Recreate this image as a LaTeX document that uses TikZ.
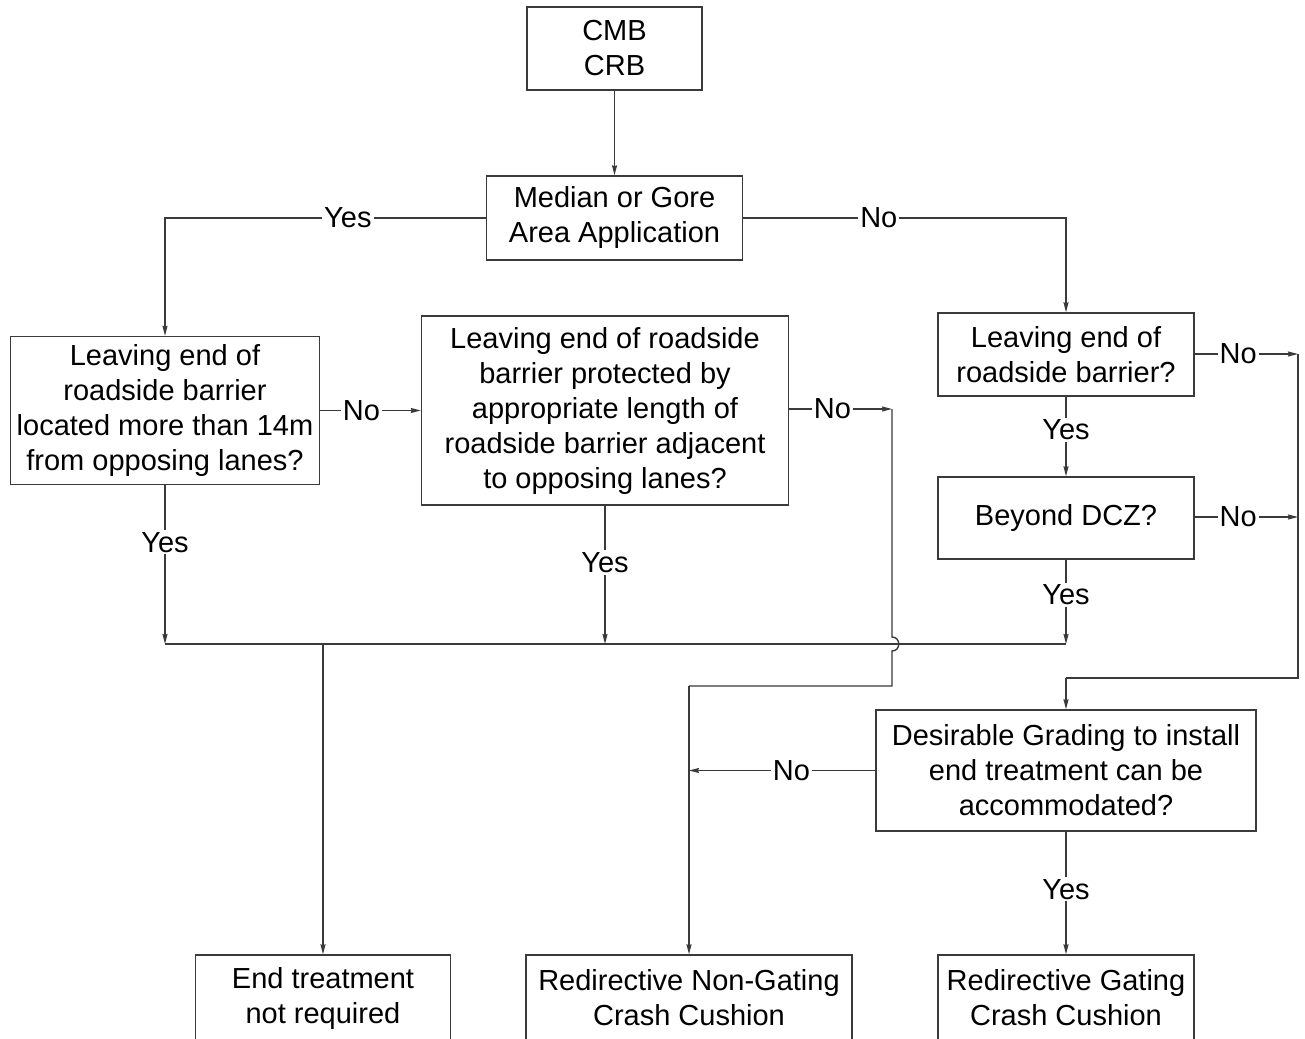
\documentclass[tikz,border=0pt]{standalone}
\usepackage{fontspec}
\setmainfont{Liberation Sans}
\usetikzlibrary{arrows.meta}
\definecolor{linec}{HTML}{3A3A3A}
\tikzset{
  box/.style={draw=linec, line width=1.4pt, align=center, inner sep=0pt, font=\fontsize{29}{35}\selectfont, text=black},
  lbl/.style={fill=white, inner sep=2pt, font=\fontsize{29}{35}\selectfont, text=black},
  conn/.style={draw=linec, line width=1.4pt},
  arr/.style={conn, -{Stealth[length=10pt,width=5pt,inset=1pt]}}
}
\begin{document}
\begin{tikzpicture}[x=1pt,y=-1pt]
\clip (0,0) rectangle (1305,1038);
\fill[white] (0,0) rectangle (1305,1038);
% boxes
\node[box, minimum width=175pt, minimum height=83pt] (cmb) at (614.5,48.5) {CMB\\CRB};
\node[box, minimum width=256pt, minimum height=84pt] (med) at (614.5,218) {Median or Gore\\Area Application};
\node[box, minimum width=309pt, minimum height=148pt] (lb) at (165,410.5) {Leaving end of\\roadside barrier\\located more than 14m\\from opposing lanes?};
\node[box, minimum width=367pt, minimum height=189pt] (mb) at (605,410.5) {Leaving end of roadside\\barrier protected by\\appropriate length of\\roadside barrier adjacent\\to opposing lanes?};
\node[box, minimum width=256pt, minimum height=83pt] (rt) at (1066,354.5) {Leaving end of\\roadside barrier?};
\node[box, minimum width=256pt, minimum height=82pt] (bd) at (1066,518) {Beyond DCZ?};
\node[box, minimum width=380pt, minimum height=121pt] (dg) at (1066,770.5) {Desirable Grading to install\\end treatment can be\\accommodated?};
\node[box, minimum width=255pt, minimum height=86pt] (et) at (323,998) {End treatment\\not required};
\node[box, minimum width=326pt, minimum height=86pt] (ng) at (689,998) {Redirective Non-Gating\\Crash Cushion};
\node[box, minimum width=256pt, minimum height=86pt] (gc) at (1066,998) {Redirective Gating\\Crash Cushion};
% coordinates
\coordinate (yl) at (lb.north |- med.west);
\coordinate (nr) at (rt.north |- med.east);
\coordinate (m1) at (892,409);
\coordinate (m2) at (892,637);
\coordinate (m3) at (892,651);
\coordinate (m4) at (892,686);
\coordinate (m5) at (ng.north |- m4);
\coordinate (j1) at (lb.south |- 0,644);
\coordinate (j2) at (mb.south |- 0,644);
\coordinate (j3) at (et.north |- 0,644);
\coordinate (j4) at (bd.south |- 0,644);
\coordinate (r1) at (1298,354);
\coordinate (r2) at (1298,517);
\coordinate (r3) at (1298,678);
\coordinate (r4) at (dg.north |- r3);
\coordinate (n1) at (ng.north |- dg.west);
% connectors
\draw[arr] (cmb.south) -- (med.north);
\draw[arr] (med.west) -- node[lbl, pos=0.43] {Yes} (yl) -- (lb.north);
\draw[arr] (med.east) -- node[lbl, pos=0.42] {No} (nr) -- (rt.north);
\draw[arr] (lb.east) -- node[lbl, pos=0.41] {No} (lb.east -| mb.west);
\draw[arr] (mb.east |- m1) -- node[lbl, pos=0.42] {No} (m1);
\draw[conn] (m1) -- (m2) .. controls (901,637) and (901,651) .. (m3) -- (m4) -- (m5);
\draw[arr] (m5) -- (ng.north);
\draw[arr] (lb.south) -- node[lbl, pos=0.36] {Yes} (j1);
\draw[arr] (mb.south) -- node[lbl, pos=0.41] {Yes} (j2);
\draw[arr] (rt.south) -- node[lbl, pos=0.42] {Yes} (bd.north);
\draw[arr] (bd.south) -- node[lbl, pos=0.42] {Yes} (j4);
\draw[conn] (j1) -- (j4);
\draw[arr] (j3) -- (et.north);
\draw[arr] (rt.east |- r1) -- node[lbl, pos=0.42] {No} (r1);
\draw[arr] (bd.east |- r2) -- node[lbl, pos=0.42] {No} (r2);
\draw[conn] (r1) -- (r3) -- (r4);
\draw[arr] (r4) -- (dg.north);
\draw[arr] (dg.west) -- node[lbl, pos=0.45] {No} (n1);
\draw[arr] (dg.south) -- node[lbl, pos=0.47] {Yes} (gc.north);
\end{tikzpicture}
\end{document}
